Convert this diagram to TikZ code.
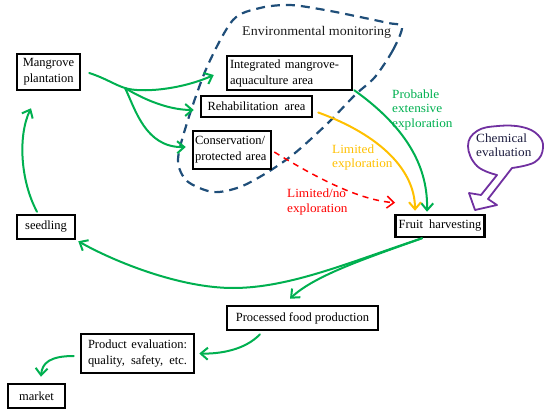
\documentclass[tikz,border=0pt]{standalone}
\usepackage{fontspec}
\setmainfont{Liberation Serif}
\newfontfamily\camfont{Liberation Serif}[FakeStretch=1.06]
\usetikzlibrary{arrows.meta}
\definecolor{ggreen}{RGB}{0,176,80}
\definecolor{gorange}{RGB}{255,192,0}
\definecolor{gred}{RGB}{255,0,0}
\definecolor{gblue}{RGB}{31,78,121}
\definecolor{gpurple}{RGB}{112,48,160}
\definecolor{gnavy}{RGB}{25,25,60}
\begin{document}
\begin{tikzpicture}[x=1pt,y=-1pt,
  box/.style={draw=black,fill=white,line width=2.5pt,inner xsep=3pt,inner ysep=0pt,
    font=\fontsize{12.5}{16}\selectfont,align=center},
  flowtip/.style={-{Straight Barb[length=7pt,width=12pt]}},
  flow/.style={ggreen,line width=2pt,line cap=round,flowtip},
  lbl/.style={font=\camfont\fontsize{12.5}{14.5}\selectfont,align=left,anchor=west,inner sep=0pt}]
\useasboundingbox (0,0) rectangle (550,415);

% environmental monitoring dashed region
\draw[gblue,line width=2.2pt,dash pattern=on 9pt off 6pt]
  plot[smooth cycle,tension=0.5] coordinates {(402,27) (393,50) (375,77) (355,95) (328,123)
   (295,153) (268,172) (240,187) (213,192) (187,181) (178,160) (187,123) (207,67)
   (233,20) (260,8) (290,5) (325,10) (360,17) (388,23)};
\node[anchor=west,inner sep=0pt,text={rgb,255:red,30;green,30;blue,30}] (env) at (242,32)
  {\camfont\fontsize{13}{16}\selectfont\resizebox{149pt}{!}{Environmental monitoring}};

% boxes
\node[box,minimum width=63pt,minimum height=36pt] (mp) at (48.5,72) {Mangrove\\plantation};
\node[box,align=left,text width=119pt,minimum height=34pt] (int) at (289.5,73)
  {\makebox[106pt][s]{Integrated mangrove-}\\\makebox[86pt][s]{aquaculture area}};
\node[box,minimum width=111pt,minimum height=21pt] (reh) at (256.5,106.5) {Rehabilitation\ \ area};
\node[box,align=left,inner xsep=2pt,text width=74pt,minimum height=38pt] (con) at (232,150) {Conservation/\\protected area};
\node[box,minimum width=88pt,minimum height=22pt] (fh) at (440,226) {Fruit\ \ harvesting};
\node[box,minimum width=58pt,minimum height=24pt] (seed) at (46,227) {seedling};
\node[box,minimum width=151pt,minimum height=24pt] (pfp) at (302.5,318) {Processed food production};
\node[box,minimum width=113pt,minimum height=39pt] (pe) at (137.5,353.5)
  {\makebox[99pt][s]{Product evaluation:}\\\makebox[99pt][s]{quality, safety, etc.}};
\node[box,minimum width=57pt,minimum height=24pt] (mk) at (36.5,396) {market};

% branching from mangrove plantation
\coordinate (br1) at (125,88);
\draw[flow] ([xshift=8pt,yshift=-1pt]mp.east) .. controls (105,78) and (115,85) .. (br1)
  .. controls (140,93) and (180,90) .. ([xshift=-12pt,yshift=-2pt]int.west);
\draw[flow] (br1) .. controls (138,96) and (165,110) .. ([xshift=-6pt,yshift=-3.5pt]reh.west);
\draw[flow] (br1) .. controls (135,108) and (145,148) .. ([xshift=-6pt,yshift=3pt]con.west);

% explorations to fruit harvesting
\draw[flow] ([xshift=1pt,yshift=1pt]int.south east) .. controls (410,130) and (428,170) .. ([xshift=-13pt,yshift=2pt]fh.north);
\draw[gorange,line width=2pt,line cap=round,flowtip] ([xshift=5pt,yshift=-6pt]reh.east)
  .. controls (380,135) and (415,170) .. ([xshift=-25pt,yshift=3pt]fh.north);
\draw[gred,line width=1.5pt,dash pattern=on 6pt off 5pt,flowtip] ([xshift=2pt,yshift=-2pt]con.east)
  .. controls (320,180) and (360,200) .. ([xshift=-45pt,yshift=11pt]fh.north);

\node[lbl,text=ggreen] (lp) at (392,109.5) {Probable\\extensive\\exploration};
\node[lbl,text=gorange] (lo) at (332,157.5) {Limited\\exploration};
\node[lbl,text=gred] (lr) at (287,202) {Limited/no\\exploration};

% chemical evaluation balloon
\draw[gpurple,line width=1.8pt,line join=round]
  plot[smooth,tension=0.7] coordinates {(512,168) (535,162) (543,148) (538,135) (522,127)
   (498,126) (477,131) (468,146) (477,166) (497,175)}
  -- (481,195) -- (469,193) -- (475,210) -- (497,205) -- (488,199) -- cycle;
\node[lbl,text=gnavy] (chem) at (476,145) {Chemical\\evaluation};

% from fruit harvesting
\draw[flow] ([xshift=-18pt]fh.south) .. controls (350,262) and (290,288) .. (233,288)
  .. controls (180,288) and (115,262) .. ([xshift=2pt,yshift=-1pt]seed.south east);
\draw[flow] ([xshift=-18pt]fh.south) .. controls (370,257) and (315,275) .. ([xshift=-12.5pt,yshift=6pt]pfp.north);

% processing chain
\draw[flow] ([xshift=-42.5pt,yshift=-3pt]pfp.south) .. controls (245,350) and (220,354) .. ([xshift=4pt]pe.east);
\draw[flow] ([xshift=-6pt,yshift=-2.5pt]pe.west) .. controls (50,356) and (42,363) .. ([xshift=4.5pt,yshift=6pt]mk.north);

% seedling back to plantation
\draw[flow] ([xshift=-9pt,yshift=2pt]seed.north) .. controls (20,180) and (18,135) .. ([xshift=-17.5pt,yshift=-17pt]mp.south);
\end{tikzpicture}
\end{document}
